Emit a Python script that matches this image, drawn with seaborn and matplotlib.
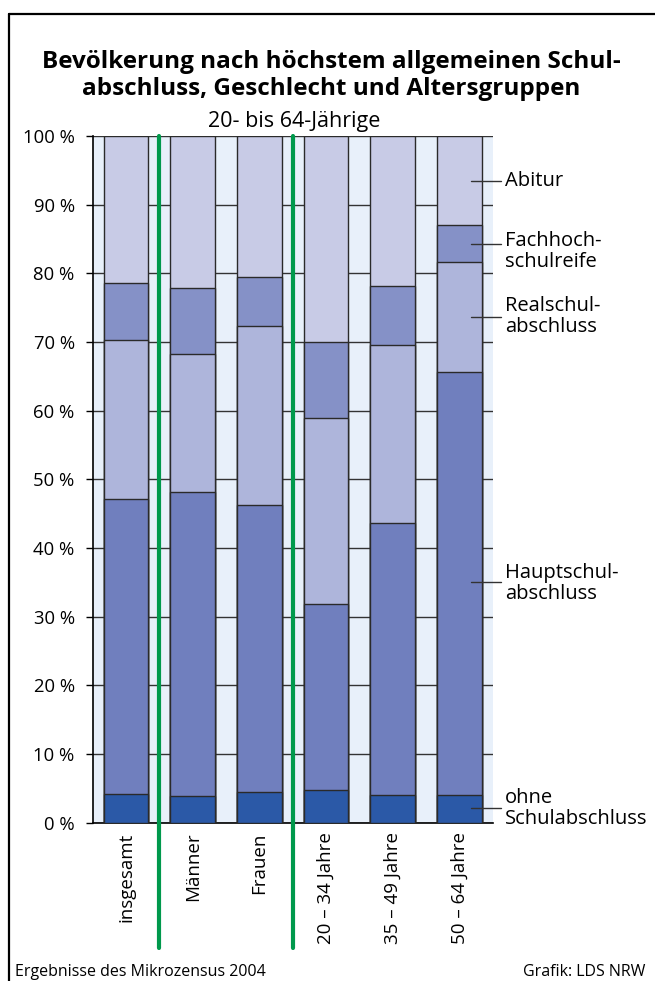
import numpy as np
import pandas as pd
import matplotlib
matplotlib.use('Agg')
import matplotlib.pyplot as plt
from matplotlib.lines import Line2D
import seaborn as sns

# Werte (Prozent) je Gruppe, gestapelt von unten nach oben
gruppen = ['insgesamt', 'Männer', 'Frauen', '20 – 34 Jahre', '35 – 49 Jahre', '50 – 64 Jahre']
ohne = [4.2, 3.9, 4.4, 4.7, 4.0, 4.0]
hauptschule = [43.0, 44.3, 41.8, 27.2, 39.7, 61.6]
realschule = [23.1, 20.1, 26.1, 27.1, 25.8, 16.1]
fachhochschulreife = [8.3, 9.5, 7.1, 11.0, 8.7, 5.4]
abitur = [21.4, 22.2, 20.6, 30.0, 21.8, 12.9]

abschluesse = ['ohne\nSchulabschluss', 'Hauptschul-\nabschluss', 'Realschul-\nabschluss',
               'Fachhoch-\nschulreife', 'Abitur']
farben = ['#2B59A7', '#707FBE', '#AEB5DB', '#8591C7', '#C8CBE6']
# Position der Beschriftungen rechts (y in %)
label_y = [2.2, 35.0, 73.7, 84.2, 93.4]
text_y = [2.1, 34.8, 73.7, 83.2, 93.4]

df = pd.DataFrame({'gruppe': gruppen, 'ohne': ohne, 'haupt': hauptschule,
                   'real': realschule, 'fh': fachhochschulreife, 'abitur': abitur})
kum = df[['ohne', 'haupt', 'real', 'fh', 'abitur']].cumsum(axis=1)

sns.set_style('white')
plt.rcParams['font.family'] = ['Open Sans', 'DejaVu Sans']
plt.rcParams['text.color'] = 'black'
plt.rcParams['xtick.color'] = 'black'
plt.rcParams['ytick.color'] = 'black'
plt.rcParams['xtick.labelcolor'] = 'black'
plt.rcParams['ytick.labelcolor'] = 'black'

fig = plt.figure(figsize=(6.55, 9.81), dpi=100)
ax = fig.add_axes([92.7 / 655, 1 - 822.7 / 981, 400 / 655, 686.7 / 981])
ax.set_facecolor('#E8F0FA')

# gestapelte Balken: von oben nach unten zeichnen
for i in range(4, -1, -1):
    sns.barplot(x=df['gruppe'], y=kum.iloc[:, i], color=farben[i], saturation=1,
                width=0.67, edgecolor='#2a2a2a', linewidth=1.0, ax=ax, zorder=3)

ax.set_xlim(-0.5, 5.5)
ax.set_ylim(0, 100)
ax.set_yticks(range(0, 101, 10))
ax.set_yticklabels([f'{v} %' for v in range(0, 101, 10)], fontsize=13.3)
ax.yaxis.grid(True, color='#333333', linewidth=1.0, zorder=1)
ax.xaxis.grid(False)
ax.set_axisbelow(True)
ax.tick_params(axis='y', length=5, width=1, color='black', pad=8, left=True)
ax.tick_params(axis='x', length=0, pad=7)
ax.set_xticks(range(len(gruppen)))
ax.set_xticklabels(gruppen, rotation=90, fontsize=13.5, va='top')
ax.set_xlabel('')
ax.set_ylabel('')
for s in ['top', 'right']:
    ax.spines[s].set_visible(False)
ax.spines['left'].set_color('black')
ax.spines['bottom'].set_color('black')
ax.spines['left'].set_linewidth(1.2)
ax.spines['bottom'].set_linewidth(1.2)

# grüne Trennlinien
for xg in [0.5, 2.5]:
    ax.plot([xg, xg], [100, -18.2], color='#00994C', linewidth=3, clip_on=False, zorder=5)

# Beschriftungen rechts
for lab, ly, ty in zip(abschluesse, label_y, text_y):
    ax.plot([5.18, 5.63], [ly, ly], color='#333333', linewidth=1, clip_on=False, zorder=6)
    ax.text(5.68, ty, lab, fontsize=14.5, va='center', ha='left', linespacing=1.1)

# Titel
fig.text(331 / 655, 1 - 68.3 / 981, 'Bevölkerung nach höchstem allgemeinen Schul-',
         fontsize=17.5, fontweight='bold', ha='center', va='baseline')
fig.text(331 / 655, 1 - 95 / 981, 'abschluss, Geschlecht und Altersgruppen',
         fontsize=17.5, fontweight='bold', ha='center', va='baseline')
fig.text(294 / 655, 1 - 127.5 / 981, '20- bis 64-Jährige', fontsize=15.5,
         ha='center', va='baseline')

# Fußzeile
fig.text(15 / 655, 1 - 976 / 981, 'Ergebnisse des Mikrozensus 2004', fontsize=11.5,
         ha='left', va='baseline')
fig.text(645 / 655, 1 - 976 / 981, 'Grafik: LDS NRW', fontsize=11.5,
         ha='right', va='baseline')

# Rahmen
fig.add_artist(Line2D([9 / 655, 9 / 655], [1 - 14 / 981, 0], color='black', linewidth=1.6))
fig.add_artist(Line2D([9 / 655, 1], [1 - 14 / 981, 1 - 14 / 981], color='black', linewidth=1.6))

fig.savefig('out.png', dpi=100)
